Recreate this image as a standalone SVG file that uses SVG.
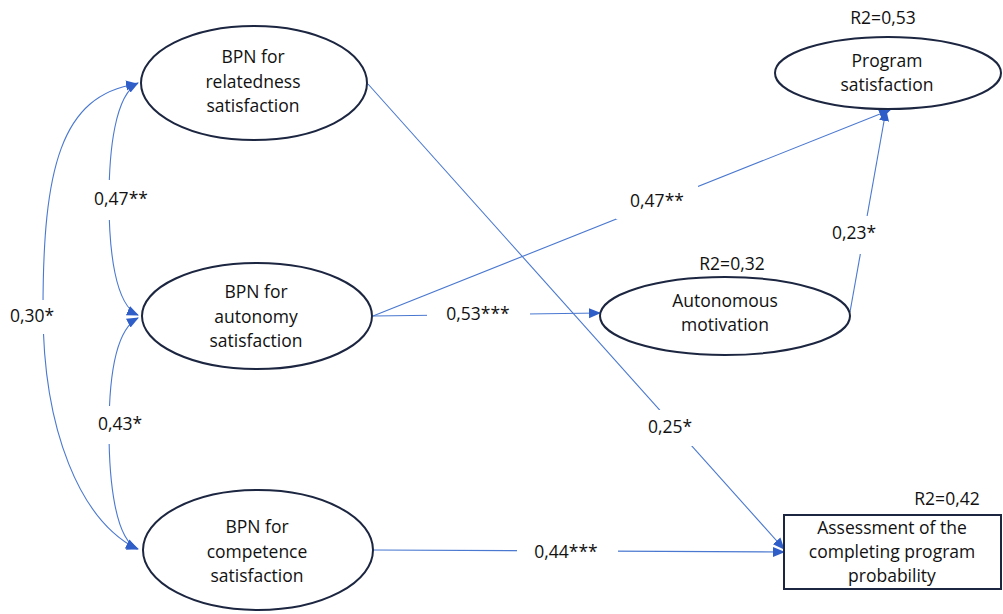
<svg xmlns="http://www.w3.org/2000/svg" width="1003" height="614" viewBox="0 0 1003 614">
<style>
.node{fill:#fff;stroke:#1c2640;stroke-width:2}
.t{font-family:"Open Sans","Noto Sans",sans-serif;font-size:17.5px;fill:#111;text-anchor:middle}
.c{fill:none;stroke:#4a78d0;stroke-width:1.1}
.bg{fill:#fff}
</style>
<defs>
<marker id="ah" markerUnits="userSpaceOnUse" markerWidth="12" markerHeight="12" viewBox="0 0 12 12" refX="11" refY="6" orient="auto-start-reverse">
<path d="M0,1 L12,6 L0,11 Z" fill="#2f5ec8"/>
</marker>
</defs>
<rect width="1003" height="614" fill="#fff"/>
<g id="connectors">
<path class="c" d="M138,83 C115,95 109,150 109,200 C109,250 115,305 138,315" marker-start="url(#ah)" marker-end="url(#ah)"/>
<path class="c" d="M138,318 C115,330 109,380 109,430 C109,480 115,540 138,549" marker-start="url(#ah)" marker-end="url(#ah)"/>
<path class="c" d="M137,84 C60,95 43,170 43,310 C43,430 80,520 137,549" marker-start="url(#ah)" marker-end="url(#ah)"/>
<path class="c" d="M368,84 L784,549" marker-end="url(#ah)"/>
<path class="c" d="M373,316 L890,110" marker-end="url(#ah)"/>
<path class="c" d="M373,316 L600,313" marker-end="url(#ah)"/>
<path class="c" d="M850,312 L886,110" marker-end="url(#ah)"/>
<path class="c" d="M373,550 L784,552" marker-end="url(#ah)"/>
<rect class="bg" x="86" y="180" width="68" height="40"/>
<text class="t" x="121" y="205">0,47**</text>
<rect class="bg" x="90" y="406" width="60" height="38"/>
<text class="t" x="120" y="430">0,43*</text>
<rect class="bg" x="3" y="300" width="60" height="34"/>
<text class="t" x="32" y="322">0,30*</text>
<rect class="bg" x="616" y="183" width="82" height="36"/>
<text class="t" x="657" y="207">0,47**</text>
<rect class="bg" x="427" y="300" width="103" height="26"/>
<text class="t" x="478" y="320">0,53***</text>
<rect class="bg" x="638" y="410" width="64" height="36"/>
<text class="t" x="670" y="433">0,25*</text>
<rect class="bg" x="824" y="216" width="60" height="38"/>
<text class="t" x="854" y="239">0,23*</text>
<rect class="bg" x="517" y="538" width="101" height="28"/>
<text class="t" x="566" y="558">0,44***</text>
</g>
<g id="relatedness">
<ellipse class="node" cx="254" cy="83" rx="113" ry="57"/>
<text class="t" x="253" y="63">BPN for</text>
<text class="t" x="253" y="88">relatedness</text>
<text class="t" x="253" y="112">satisfaction</text>
</g>
<g id="autonomy">
<ellipse class="node" cx="257" cy="316" rx="115" ry="53"/>
<text class="t" x="256" y="298">BPN for</text>
<text class="t" x="256" y="323">autonomy</text>
<text class="t" x="256" y="347">satisfaction</text>
</g>
<g id="competence">
<ellipse class="node" cx="258" cy="550" rx="115" ry="60"/>
<text class="t" x="257" y="533">BPN for</text>
<text class="t" x="257" y="558">competence</text>
<text class="t" x="257" y="582">satisfaction</text>
</g>
<g id="program">
<text class="t" x="883" y="24">R2=0,53</text>
<ellipse class="node" cx="888" cy="73" rx="113" ry="36"/>
<text class="t" x="887" y="67">Program</text>
<text class="t" x="887" y="91">satisfaction</text>
</g>
<g id="motivation">
<text class="t" x="732" y="270">R2=0,32</text>
<ellipse class="node" cx="725" cy="316" rx="125" ry="39"/>
<text class="t" x="725" y="307">Autonomous</text>
<text class="t" x="725" y="331">motivation</text>
</g>
<g id="assessment">
<text class="t" x="947" y="505">R2=0,42</text>
<rect class="node" x="784" y="515" width="217" height="74"/>
<text class="t" x="892" y="534">Assessment of the</text>
<text class="t" x="892" y="558">completing program</text>
<text class="t" x="892" y="582">probability</text>
</g>
</svg>
